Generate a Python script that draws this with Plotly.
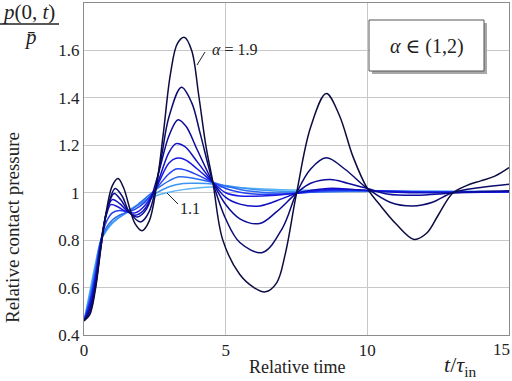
import plotly.graph_objects as go

# ---- data (t / tau_in, p(0,t)/p_bar) ----
alphas = ["1.1", "1.2", "1.3", "1.4", "1.5", "1.6", "1.7", "1.8", "1.9"]

t11 = [0, 0.2, 0.4, 0.6, 0.8, 1.0, 1.5, 2.0, 2.5, 3.0, 3.5, 4.0, 4.5, 5.0, 6.0, 7.0, 8.0, 10.0, 12.0, 15]
p11 = [0.46, 0.58, 0.70, 0.80, 0.84, 0.87, 0.92, 0.955, 0.985, 1.002, 1.013, 1.02, 1.024, 1.024, 1.018, 1.013, 1.01, 1.007, 1.006, 1.005]

t12 = [0, 0.2, 0.4, 0.6, 0.8, 1.0, 1.5, 2.0, 2.5, 3.0, 3.5, 4.0, 4.55, 5.0, 6.0, 7.0, 8.0, 10.0, 15]
p12 = [0.46, 0.565, 0.685, 0.80, 0.845, 0.875, 0.915, 0.955, 0.995, 1.025, 1.039, 1.04, 1.037, 1.03, 1.014, 1.006, 1.004, 1.005, 1.004]

t13 = [0, 0.2, 0.4, 0.6, 0.8, 1.0, 1.25, 1.55, 2.0, 2.5, 3.0, 3.35, 3.8, 4.55, 5.0, 5.5, 6.0, 6.5, 7.5, 8.5, 10.0, 12.0, 15]
p13 = [0.46, 0.55, 0.67, 0.80, 0.855, 0.885, 0.905, 0.92, 0.96, 1.01, 1.05, 1.067, 1.062, 1.043, 1.028, 1.014, 1.005, 1.0, 0.999, 1.004, 1.007, 1.005, 1.004]

t14 = [0, 0.2, 0.4, 0.6, 0.8, 1.0, 1.25, 1.55, 1.8, 2.1, 2.5, 3.0, 3.25, 3.6, 4.0, 4.55, 5.0, 5.5, 6.0, 6.5, 7.5, 8.5, 9.5, 10.5, 12.0, 15]
p14 = [0.46, 0.54, 0.655, 0.80, 0.88, 0.915, 0.925, 0.92, 0.93, 0.955, 1.01, 1.08, 1.10, 1.095, 1.075, 1.043, 1.018, 1.002, 0.995, 0.994, 0.998, 1.008, 1.01, 1.008, 1.004, 1.004]

t15 = [0, 0.2, 0.4, 0.6, 0.8, 0.95, 1.2, 1.5, 1.8, 2.1, 2.5, 3.0, 3.25, 3.55, 4.0, 4.55, 5.0, 5.5, 6.0, 6.6, 7.5, 8.5, 9.5, 10.5, 12.0, 15]
p15 = [0.46, 0.53, 0.64, 0.80, 0.91, 0.95, 0.94, 0.92, 0.915, 0.94, 1.01, 1.125, 1.145, 1.14, 1.10, 1.043, 1.0, 0.986, 0.985, 0.988, 0.998, 1.012, 1.012, 1.006, 1.002, 1.004]

t16 = [0, 0.2, 0.4, 0.6, 0.8, 1.0, 1.25, 1.55, 1.8, 2.1, 2.5, 3.0, 3.25, 3.55, 4.0, 4.55, 5.0, 5.5, 6.2, 7.0, 7.5, 8.6, 9.5, 10.5, 11.5, 13.0, 15]
p16 = [0.46, 0.515, 0.625, 0.79, 0.92, 0.971, 0.955, 0.92, 0.905, 0.925, 1.01, 1.17, 1.207, 1.195, 1.13, 1.043, 0.98, 0.952, 0.944, 0.975, 0.998, 1.018, 1.014, 1.005, 1.0, 1.0, 1.005]

t17 = [0, 0.2, 0.4, 0.6, 0.8, 1.06, 1.3, 1.58, 1.88, 2.2, 2.6, 3.0, 3.32, 3.6, 4.0, 4.55, 5.0, 5.5, 6.2, 6.8, 7.5, 8.0, 8.7, 9.3, 10.0, 10.7, 11.6, 12.5, 13.5, 15]
p17 = [0.46, 0.505, 0.61, 0.78, 0.92, 0.997, 0.97, 0.919, 0.898, 0.93, 1.07, 1.24, 1.308, 1.28, 1.18, 1.043, 0.95, 0.89, 0.87, 0.92, 0.998, 1.04, 1.056, 1.04, 1.018, 0.995, 0.989, 0.995, 1.003, 1.008]

t18 = [0, 0.2, 0.4, 0.6, 0.8, 1.1, 1.35, 1.6, 2.0, 2.3, 2.7, 3.0, 3.44, 3.8, 4.1, 4.55, 5.0, 5.5, 6.3, 7.0, 7.5, 8.0, 8.55, 9.2, 10.0, 10.8, 11.6, 12.3, 13.0, 14.0, 15]
p18 = [0.46, 0.495, 0.60, 0.775, 0.92, 1.018, 0.985, 0.919, 0.877, 0.92, 1.13, 1.32, 1.445, 1.38, 1.25, 1.043, 0.89, 0.79, 0.748, 0.85, 0.998, 1.10, 1.147, 1.10, 1.018, 0.96, 0.944, 0.96, 1.0, 1.022, 1.036]

t19 = [0, 0.2, 0.4, 0.6, 0.8, 1.0, 1.2, 1.4, 1.6, 1.8, 2.05, 2.3, 2.55, 2.8, 3.05, 3.3, 3.55, 3.8, 4.05, 4.3, 4.55, 4.9, 5.5, 6.0, 6.4, 6.8, 7.1, 7.5, 8.0, 8.55, 9.0, 9.5, 10.0, 10.5, 11.0, 11.65, 12.1, 12.5, 13.0, 13.5, 14.0, 14.5, 15]
p19 = [0.46, 0.485, 0.59, 0.77, 0.93, 1.03, 1.06, 1.02, 0.94, 0.87, 0.84, 0.88, 1.02, 1.25, 1.50, 1.63, 1.655, 1.6, 1.41, 1.2, 1.043, 0.80, 0.655, 0.60, 0.582, 0.62, 0.74, 0.997, 1.277, 1.418, 1.33, 1.15, 1.018, 0.94, 0.87, 0.803, 0.83, 0.905, 0.997, 1.03, 1.05, 1.07, 1.106]

series_t = [t11, t12, t13, t14, t15, t16, t17, t18, t19]
series_p = [p11, p12, p13, p14, p15, p16, p17, p18, p19]
colors = ["#5ab4f5", "#3a94f2", "#2c6cf0", "#2442f0", "#1a1ae6", "#1010c4", "#0b0b9c", "#0c0c6e", "#0c0c40"]

x_ticks = [0, 5, 10]
y_ticks = [0.4, 0.6, 0.8, 1.0, 1.2, 1.4, 1.6]
y_tick_text = ["0.4", "0.6", "0.8", "1", "1.2", "1.4", "1.6"]

W, H = 512, 381
ML, MR, MT, MB = 84, 3, 3, 46
PW, PH = W - ML - MR, H - MT - MB


def px(x):
    return (x - ML) / PW


def py(y):
    return (H - MB - y) / PH


fig = go.Figure()
for a, tt, pp, c in zip(alphas, series_t, series_p, colors):
    fig.add_trace(go.Scatter(x=tt, y=pp, mode="lines", name=a,
                             line=dict(color=c, width=1.5, shape="spline", smoothing=1.0)))

serif = "Liberation Serif, Times New Roman, DejaVu Serif, serif"
grid = "#c8c8c8"
fig.update_layout(
    width=W, height=H,
    margin=dict(l=ML, r=MR, t=MT, b=MB),
    paper_bgcolor="white", plot_bgcolor="white",
    showlegend=False,
    font=dict(family=serif, size=16, color="#222"),
    xaxis=dict(range=[0, 15], tickvals=x_ticks, ticktext=[str(v) for v in x_ticks],
               showgrid=True, gridcolor=grid, gridwidth=1, zeroline=False,
               showline=True, linecolor="#8c8c8c", linewidth=1, mirror=True,
               ticks="", tickfont=dict(family=serif, size=17, color="#222")),
    yaxis=dict(range=[0.4, 1.8], tickvals=y_ticks, ticktext=y_tick_text,
               showgrid=True, gridcolor=grid, gridwidth=1, zeroline=False,
               showline=True, linecolor="#8c8c8c", linewidth=1, mirror=True,
               ticks="", tickfont=dict(family=serif, size=17, color="#222")),
)

ann = []
ann.append(dict(x=px(512), y=py(350), xref="paper", yref="paper", text="15", showarrow=False,
                xanchor="right", yanchor="middle", font=dict(family=serif, size=17, color="#222")))
ann.append(dict(x=px(297), y=py(367), xref="paper", yref="paper", text="Relative time", showarrow=False,
                xanchor="center", yanchor="middle", font=dict(family=serif, size=18, color="#222")))
ann.append(dict(x=px(12), y=py(228), xref="paper", yref="paper", text="Relative contact pressure",
                showarrow=False, textangle=-90, xanchor="center", yanchor="middle",
                font=dict(family=serif, size=19, color="#222")))
ann.append(dict(x=px(460), y=py(366), xref="paper", yref="paper",
                text="<i>t</i>/<i>τ</i><sub>in</sub>", showarrow=False, xanchor="center", yanchor="middle",
                font=dict(family=serif, size=22, color="#222")))
ann.append(dict(x=px(29), y=py(12), xref="paper", yref="paper", text="<i>p</i>(0, <i>t</i>)",
                showarrow=False, xanchor="center", yanchor="middle", font=dict(family=serif, size=21, color="#222")))
ann.append(dict(x=px(30), y=py(37), xref="paper", yref="paper", text="<i>p̄</i>",
                showarrow=False, xanchor="center", yanchor="middle", font=dict(family=serif, size=21, color="#222")))
ann.append(dict(x=px(427), y=py(47), xref="paper", yref="paper", text="<i>α</i> ∈ (1,2)",
                showarrow=False, xanchor="center", yanchor="middle", font=dict(family=serif, size=20, color="#222")))
ann.append(dict(x=px(234), y=py(50), xref="paper", yref="paper", text="<i>α</i> = 1.9",
                showarrow=False, xanchor="center", yanchor="middle", font=dict(family=serif, size=16, color="#222")))
ann.append(dict(x=px(190), y=py(208), xref="paper", yref="paper", text="1.1",
                showarrow=False, xanchor="center", yanchor="middle", font=dict(family=serif, size=16, color="#222")))
fig.update_layout(annotations=ann)

shapes = [
    dict(type="line", xref="paper", yref="paper", x0=px(0), x1=px(59), y0=py(24), y1=py(24),
         line=dict(color="#222", width=1.3)),
    dict(type="rect", xref="paper", yref="paper", x0=px(372), x1=px(487), y0=py(23), y1=py(74),
         line=dict(width=0), fillcolor="#a8a8a8"),
    dict(type="rect", xref="paper", yref="paper", x0=px(369), x1=px(484), y0=py(20), y1=py(71),
         line=dict(color="#555", width=1), fillcolor="white"),
    dict(type="line", xref="paper", yref="paper", x0=px(197), x1=px(205), y0=py(65), y1=py(52),
         line=dict(color="#222", width=1)),
    dict(type="line", xref="paper", yref="paper", x0=px(167), x1=px(178), y0=py(193), y1=py(204),
         line=dict(color="#222", width=1)),
]
fig.update_layout(shapes=shapes)

fig.write_html("out.html", config={"displayModeBar": False},
               post_script="document.body.style.margin='0';document.body.style.padding='0';")
